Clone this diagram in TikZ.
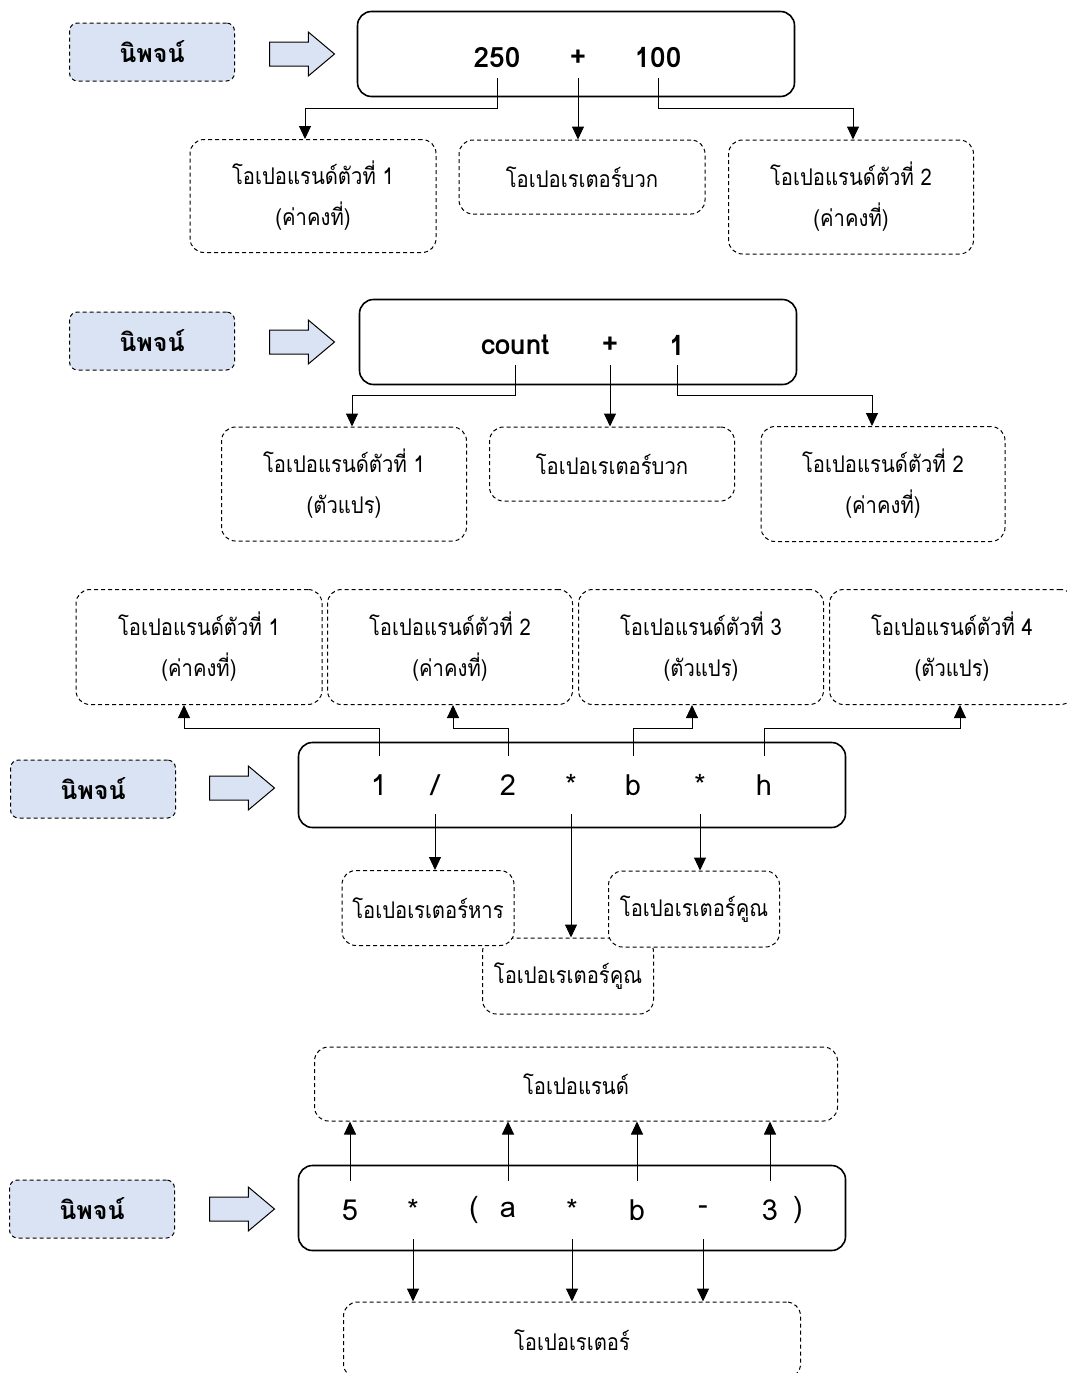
\documentclass[tikz,border=0pt]{standalone}
\usepackage{fontspec}
\usetikzlibrary{arrows.meta,shapes.arrows}
\newfontfamily\thaifont[Script=Thai]{Loma}
\newfontfamily\thainarrow[Script=Thai,FakeStretch=0.88]{Loma}
\definecolor{lblue}{HTML}{DAE3F3}

\begin{document}
\begin{tikzpicture}[x=1pt,y=-1pt]
\tikzstyle{every node}+=[inner sep=0pt]
\tikzstyle{lbl}=[draw=black,line width=1pt,dash pattern=on 4pt off 3pt,rounded corners=8pt,fill=lblue,minimum width=165pt,minimum height=58pt,font=\thaifont\bfseries\fontsize{25}{28}\selectfont]
\tikzstyle{bigarrow}=[single arrow,anchor=tail,draw=black,fill=lblue,line width=1pt,inner xsep=0pt,inner ysep=11.5pt,minimum width=43pt,minimum height=65pt,single arrow head extend=10pt,single arrow head indent=0pt,single arrow tip angle=80]
\tikzstyle{expr}=[draw=black,line width=1.6pt,rounded corners=14pt]
\tikzstyle{part}=[draw=black,line width=1pt,dash pattern=on 4pt off 3pt,rounded corners=14pt,fill=white,align=center,font=\thainarrow\fontsize{23}{41}\selectfont]
\tikzstyle{tok}=[font=\thaifont\fontsize{29}{32}\selectfont,minimum height=40pt]
\tikzstyle{tokbold}=[tok,font=\thaifont\bfseries\fontsize{28}{32}\selectfont]
\tikzstyle{toktall}=[tok,minimum height=58pt]
\tikzstyle{link}=[draw=black,line width=1pt,-{Triangle[width=12pt,length=13pt]}]
\useasboundingbox (0,0) rectangle (1067,1373);
\clip (0,0) rectangle (1067,1373);

\node[lbl] (lbl1) at (152,52) {นิพจน์};
\node[bigarrow] (arr1) at (269,54) {};
\node[expr,minimum width=437pt,minimum height=85pt] (box1) at (576,54) {};
\node[tokbold] (t250) at (497,58) {250};
\node[tokbold] (tadd) at (578,58) {+};
\node[tokbold] (t100) at (658,58) {100};
\node[part,minimum width=246pt,minimum height=113pt] (opA) at (313,196) {โอเปอแรนด์ตัวที่ 1\\(ค่าคงที่)};
\node[part,minimum width=246pt,minimum height=74pt] (opB) at (582,177) {โอเปอเรเตอร์บวก};
\node[part,minimum width=245pt,minimum height=114pt] (opC) at (851,197) {โอเปอแรนด์ตัวที่ 2\\(ค่าคงที่)};
\draw[link] (t250.south) -- ++(0,30) -| ([xshift=-8pt]opA.north);
\draw[link] (tadd.south) -- (tadd.south |- opB.north);
\draw[link] (t100.south) -- ++(0,30) -| ([xshift=2pt]opC.north);

\node[lbl] (lbl2) at (152,341) {นิพจน์};
\node[bigarrow] (arr2) at (269,342) {};
\node[expr,minimum width=437pt,minimum height=85pt] (box2) at (578,342) {};
\node[tokbold] (tcount) at (515,345) {count};
\node[tokbold] (tadd2) at (610,345) {+};
\node[tokbold] (tone) at (677,345) {1};
\node[part,minimum width=245pt,minimum height=114pt] (opD) at (344,484) {โอเปอแรนด์ตัวที่ 1\\(ตัวแปร)};
\node[part,minimum width=245pt,minimum height=74pt] (opE) at (612,464) {โอเปอเรเตอร์บวก};
\node[part,minimum width=244pt,minimum height=115pt] (opF) at (883,484) {โอเปอแรนด์ตัวที่ 2\\(ค่าคงที่)};
\draw[link] (tcount.south) -- ++(0,30) -| ([xshift=8pt]opD.north);
\draw[link] (tadd2.south) -- (tadd2.south |- opE.north);
\draw[link] (tone.south) -- ++(0,30) -| ([xshift=-11pt]opF.north);

\node[part,minimum width=246pt,minimum height=115pt] (opG) at (199,647) {โอเปอแรนด์ตัวที่ 1\\(ค่าคงที่)};
\node[part,minimum width=245pt,minimum height=115pt] (opH) at (450,647) {โอเปอแรนด์ตัวที่ 2\\(ค่าคงที่)};
\node[part,minimum width=245pt,minimum height=115pt] (opI) at (701,647) {โอเปอแรนด์ตัวที่ 3\\(ตัวแปร)};
\node[part,minimum width=245pt,minimum height=115pt] (opJ) at (952,647) {โอเปอแรนด์ตัวที่ 4\\(ตัวแปร)};
\node[lbl] (lbl3) at (93,789) {นิพจน์};
\node[bigarrow] (arr3) at (209,788) {};
\node[expr,minimum width=547pt,minimum height=85pt] (box3) at (572,785) {};
\node[toktall] (tn1) at (379,785) {1};
\node[toktall] (tdiv) at (435,785) {/};
\node[toktall] (tn2) at (508,785) {2};
\node[toktall] (tmul1) at (571,785) {*};
\node[toktall] (tb) at (633,785) {b};
\node[toktall] (tmul2) at (700,785) {*};
\node[toktall] (th) at (764,785) {h};
\draw[link] (tn1.north) -- ++(0,-27) -| ([xshift=-15pt]opG.south);
\draw[link] (tn2.north) -- ++(0,-27) -| ([xshift=3pt]opH.south);
\draw[link] (tb.north) -- ++(0,-27) -| ([xshift=-9pt]opI.south);
\draw[link] (th.north) -- ++(0,-27) -| ([xshift=8pt]opJ.south);
\node[part,minimum width=171pt,minimum height=76pt] (opMulA) at (568,976) {โอเปอเรเตอร์คูณ};
\node[part,minimum width=172pt,minimum height=75pt] (opDiv) at (428,908) {โอเปอเรเตอร์หาร};
\node[part,minimum width=171pt,minimum height=76pt] (opMulB) at (694,909) {โอเปอเรเตอร์คูณ};
\draw[link] (tdiv.south) -- (tdiv.south |- opDiv.north);
\draw[link] (tmul1.south) -- (tmul1.south |- opMulA.north);
\draw[link] (tmul2.south) -- (tmul2.south |- opMulB.north);

\node[part,minimum width=523pt,minimum height=74pt] (opK) at (576,1084) {โอเปอแรนด์};
\node[lbl] (lbl4) at (92,1209) {นิพจน์};
\node[bigarrow] (arr4) at (209,1209) {};
\node[expr,minimum width=547pt,minimum height=85pt] (box4) at (572,1208) {};
\node[toktall] (t5) at (350,1210) {5};
\node[toktall] (tm1) at (413,1210) {*};
\node[toktall] (tpl) at (474,1210) {(};
\node[toktall] (ta) at (508,1210) {a};
\node[toktall] (tm2) at (572,1210) {*};
\node[toktall] (tb2) at (637,1210) {b};
\node[toktall] (tsub) at (703,1210) {-};
\node[toktall] (t3) at (770,1210) {3};
\node[toktall] (tpr) at (798,1210) {)};
\node[part,minimum width=457pt,minimum height=76pt] (opL) at (572,1340) {โอเปอเรเตอร์};
\draw[link] (t5.north) -- (t5.north |- opK.south);
\draw[link] (ta.north) -- (ta.north |- opK.south);
\draw[link] (tb2.north) -- (tb2.north |- opK.south);
\draw[link] (t3.north) -- (t3.north |- opK.south);
\draw[link] (tm1.south) -- (tm1.south |- opL.north);
\draw[link] (tm2.south) -- (tm2.south |- opL.north);
\draw[link] (tsub.south) -- (tsub.south |- opL.north);
\end{tikzpicture}
\end{document}
